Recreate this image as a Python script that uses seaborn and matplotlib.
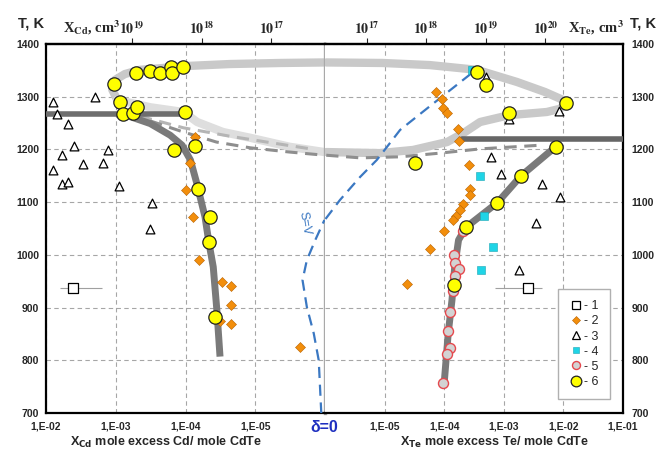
import matplotlib
matplotlib.use("Agg")
import matplotlib.pyplot as plt
import seaborn as sns
from matplotlib.lines import Line2D
from matplotlib.ticker import NullLocator

# ---------------- datos: X = exceso molar por mol CdTe, T en K ----------------
# lado Cd (mitad izquierda)
cd_ref1_x = [4.1e-3]
cd_ref1_t = [938]
cd_ref1_lo = [1.6e-3]
cd_ref1_hi = [6.3e-3]

cd_ref2_x = [7.2e-5, 8.5e-5, 1.0e-4, 7.9e-5, 6.3e-5, 2.95e-5, 2.24e-5, 2.24e-5, 3.2e-5, 2.24e-5, 2.3e-6]
cd_ref2_t = [1223, 1174, 1123, 1072, 990, 949, 940, 904, 875, 869, 826]

cd_ref3_x = [7.9e-3, 6.9e-3, 4.9e-3, 2.0e-3, 4.0e-3, 5.9e-3, 2.95e-3, 1.5e-3, 1.3e-3,
             7.9e-3, 5.9e-3, 4.9e-3, 8.9e-4, 3.0e-4, 3.2e-4]
cd_ref3_t = [1290, 1268, 1248, 1299, 1206, 1189, 1172, 1175, 1199,
             1161, 1134, 1139, 1131, 1099, 1050]

cd_ref6_x = [5.1e-4, 3.2e-4, 2.3e-4, 1.6e-4, 1.55e-4, 1.07e-4, 1.07e-3, 8.7e-4, 7.9e-4,
             5.75e-4, 5.0e-4, 1.02e-4, 1.48e-4, 7.2e-5, 6.6e-5, 4.5e-5, 4.6e-5, 3.8e-5]
cd_ref6_t = [1345, 1349, 1345, 1357, 1345, 1356, 1324, 1290, 1268,
             1270, 1280, 1271, 1198, 1206, 1124, 1072, 1024, 883]

# lado Te (mitad derecha)
te_ref1_x = [2.5e-3]
te_ref1_t = [938]
te_ref1_lo = [7.1e-4]
te_ref1_hi = [4.4e-3]

te_ref2_x = [7.2e-5, 9.1e-5, 9.5e-5, 1.1e-4, 1.7e-4, 1.74e-4, 2.6e-4, 2.75e-4, 2.7e-4,
             2.1e-4, 1.86e-4, 1.6e-4, 1.4e-4, 1.0e-4, 5.75e-5, 2.4e-5]
te_ref2_t = [1308, 1295, 1278, 1270, 1238, 1216, 1170, 1124, 1113,
             1096, 1085, 1074, 1066, 1045, 1012, 945]

te_ref3_x = [5.0e-4, 1.23e-3, 8.5e-3, 6.0e-4, 8.9e-4, 4.3e-3, 8.9e-3, 3.5e-3, 1.8e-3]
te_ref3_t = [1338, 1257, 1272, 1186, 1153, 1134, 1109, 1060, 972]

te_ref4_x = [2.9e-4, 4.0e-4, 4.7e-4, 6.5e-4, 4.2e-4]
te_ref4_t = [1351, 1150, 1074, 1015, 971]

te_ref5_x = [1.45e-4, 1.5e-4, 1.74e-4, 1.5e-4, 1.4e-4, 1.26e-4, 1.17e-4, 1.26e-4, 1.12e-4, 9.5e-5, 2.1e-4]
te_ref5_t = [1000, 984, 973, 960, 932, 892, 856, 823, 812, 756, 1046]

te_ref6_x = [3.6e-4, 5.1e-4, 1.1e-2, 1.23e-3, 7.4e-3, 3.2e-5, 1.95e-3, 7.8e-4, 2.3e-4, 1.45e-4]
te_ref6_t = [1347, 1322, 1289, 1270, 1205, 1175, 1150, 1099, 1052, 942]

# curvas de solidus (gris oscuro)
cd_sol_flat_x = [1.0e-2, 1.0e-4]
cd_sol_flat_t = [1267, 1267]
cd_sol_x = [7.9e-4, 3.2e-4, 1.66e-4, 1.12e-4, 8.5e-5, 6.9e-5, 5.25e-5, 4.6e-5, 4.0e-5, 3.55e-5, 3.2e-5]
cd_sol_t = [1267, 1249, 1227, 1208, 1180, 1136, 1072, 1022, 977, 895, 807]

te_sol_flat_x = [2.0e-4, 1.0e-1]
te_sol_flat_t = [1220, 1220]
te_sol_x = [8.1e-3, 7.4e-3, 1.95e-3, 7.8e-4, 2.3e-4, 1.74e-4, 1.5e-4, 1.35e-4, 1.17e-4, 1.0e-4]
te_sol_t = [1216, 1205, 1150, 1099, 1052, 1028, 977, 914, 852, 757]

# liquidus (gris claro)
cd_liq_up_x = [9.5e-4, 1.12e-3, 1.02e-3, 7.4e-4, 4.5e-4, 2.3e-4, 1.07e-4, 2.3e-5, 4.4e-6, 1.02e-6]
cd_liq_up_t = [1294, 1313, 1332, 1343, 1351, 1354, 1358, 1362, 1364, 1365]
te_liq_x = [1.05e-6, 9.3e-6, 5.75e-5, 3.55e-4, 1.66e-3, 4.9e-3, 9.8e-3, 1.1e-2,
            8.7e-3, 5.25e-3, 1.23e-3, 4.0e-4, 2.1e-4, 1.12e-4, 3.0e-5, 8.3e-6, 1.05e-6]
te_liq_t = [1365, 1364, 1360, 1351, 1328, 1309, 1294, 1286,
            1277, 1271, 1265, 1252, 1231, 1214, 1199, 1193, 1195]
cd_liq_low_x = [1.02e-6, 3.2e-6, 1.17e-5, 2.9e-5, 6.8e-5, 1.07e-4, 3.2e-4, 9.5e-4]
cd_liq_low_t = [1195, 1205, 1222, 1233, 1252, 1271, 1280, 1294]

# curvas discontinuas
cd_dash_x = [3.2e-4, 1.07e-4, 3.6e-5, 1.17e-5, 3.2e-6, 1.02e-6]
cd_dash_t = [1254, 1233, 1214, 1203, 1195, 1189]
cd_dash2_x = [4.5e-4, 1.07e-4, 2.3e-5, 5.5e-6, 1.6e-6]
cd_dash2_t = [1263, 1241, 1225, 1212, 1201]
te_dash_x = [1.05e-6, 3.9e-6, 1.82e-5, 8.5e-5, 4.0e-4, 4.1e-3]
te_dash_t = [1189, 1184, 1186, 1193, 1201, 1208]

# S=V
cd_sv_x = [1.13e-6, 1.23e-6, 1.45e-6, 1.82e-6, 2.1e-6, 1.82e-6, 1.38e-6, 1.02e-6]
cd_sv_t = [699, 800, 851, 901, 952, 990, 1028, 1066]
te_sv_x = [1.02e-6, 1.78e-6, 3.9e-6, 7.4e-6, 1.1e-5, 1.82e-5, 5.75e-5, 3.4e-4]
te_sv_t = [1068, 1104, 1148, 1180, 1205, 1237, 1282, 1351]

temp_ticks = [700, 800, 900, 1000, 1100, 1200, 1300, 1400]
cd_ticks = [1e-2, 1e-3, 1e-4, 1e-5]
cd_tick_labels = ["1,E-02", "1,E-03", "1,E-04", "1,E-05"]
te_ticks = [1e-5, 1e-4, 1e-3, 1e-2, 1e-1]
te_tick_labels = ["1,E-05", "1,E-04", "1,E-03", "1,E-02", "1,E-01"]
cd_cm_ticks = [1e17, 1e18, 1e19]
cd_cm_labels = [r"$\mathbf{10^{17}}$", r"$\mathbf{10^{18}}$", r"$\mathbf{10^{19}}$"]
te_cm_ticks = [1e17, 1e18, 1e19, 1e20]
te_cm_labels = [r"$\mathbf{10^{17}}$", r"$\mathbf{10^{18}}$", r"$\mathbf{10^{19}}$", r"$\mathbf{10^{20}}$"]

# ---------------- estilos ----------------
sns.set_theme(style="white")
plt.rcParams["font.family"] = ["Liberation Sans", "DejaVu Sans"]
plt.rcParams["mathtext.fontset"] = "stix"

GRID = dict(color="#a6a6a6", linestyle=(0, (4, 3)), linewidth=0.8)
LIQ = "#c9c9c9"
LIQ_LIGHT = "#dedede"
SOL = "#7a7a7a"
BLUE = "#3b78c2"

st1 = dict(marker="s", s=48, color="white", edgecolor="black", linewidth=0.9, zorder=6)
st2 = dict(marker="D", s=26, color="#f28e0c", edgecolor="#b86200", linewidth=0.4, zorder=5)
st3 = dict(marker="^", s=40, color="white", edgecolor="black", linewidth=0.9, zorder=5)
st4 = dict(marker="s", s=34, color="#1fd4e6", edgecolor="#1aa6b4", linewidth=0.4, zorder=5)
st5 = dict(marker="o", s=52, color="#d3d3d3", edgecolor="#e5484d", linewidth=1.0, zorder=5)
st6 = dict(marker="o", s=92, color="#ffff00", edgecolor="#222222", linewidth=0.9, zorder=7)

fig = plt.figure(figsize=(6.6, 4.5), dpi=100)
ax_l = fig.add_axes([46 / 660, 37 / 450, 279 / 660, 369 / 450])
ax_r = fig.add_axes([325 / 660, 37 / 450, 298 / 660, 369 / 450])

for ax in (ax_l, ax_r):
    ax.set_xscale("log")
    ax.set_ylim(700, 1400)
    ax.xaxis.set_minor_locator(NullLocator())
    ax.grid(True, which="major", **GRID)
    ax.set_axisbelow(True)
    ax.tick_params(axis="both", length=0, labelsize=7.5)
    for s in ax.spines.values():
        s.set_color("black")
        s.set_linewidth(1.6)

ax_l.set_xlim(1e-2, 1e-6)
ax_r.set_xlim(1e-6, 1e-1)
ax_l.set_xticks(cd_ticks, cd_tick_labels, fontweight="bold")
ax_r.set_xticks(te_ticks, te_tick_labels, fontweight="bold")
ax_l.set_yticks(temp_ticks, [str(t) for t in temp_ticks], fontweight="bold")
ax_r.set_yticks(temp_ticks, [str(t) for t in temp_ticks], fontweight="bold")
ax_l.tick_params(axis="x", pad=6)
ax_r.tick_params(axis="x", pad=6)
ax_l.tick_params(axis="y", pad=5)
ax_r.yaxis.tick_right()
ax_r.tick_params(axis="y", pad=6)
ax_l.spines["right"].set_color("#a9a9a9")
ax_l.spines["right"].set_linewidth(2.4)
ax_r.spines["left"].set_visible(False)

# ---------------- curvas ----------------
ax_l.plot(cd_liq_up_x, cd_liq_up_t, color=LIQ, lw=6, solid_capstyle="round", zorder=2)
ax_l.plot(cd_liq_low_x, cd_liq_low_t, color=LIQ_LIGHT, lw=6, solid_capstyle="round", zorder=2)
ax_r.plot(te_liq_x, te_liq_t, color=LIQ, lw=6, solid_capstyle="round", zorder=2)

ax_l.plot(cd_dash2_x, cd_dash2_t, color="#b5b5b5", lw=2.2, ls=(0, (4, 2.5)), zorder=2.5)
ax_l.plot(cd_dash_x, cd_dash_t, color="#8e8e8e", lw=2.2, ls=(0, (4, 2.5)), zorder=2.5)
ax_r.plot(te_dash_x, te_dash_t, color="#8e8e8e", lw=2.2, ls=(0, (4, 2.5)), zorder=2.5)

ax_l.plot(cd_sol_flat_x, cd_sol_flat_t, color="#6e6e6e", lw=4, zorder=3)
ax_l.plot(cd_sol_x, cd_sol_t, color=SOL, lw=5, solid_capstyle="butt", zorder=3)
ax_r.plot(te_sol_flat_x, te_sol_flat_t, color="#666666", lw=4, zorder=3)
ax_r.plot(te_sol_x, te_sol_t, color=SOL, lw=5, solid_capstyle="butt", zorder=3)

ax_l.plot(cd_sv_x, cd_sv_t, color=BLUE, lw=1.6, ls=(0, (5, 3)), zorder=3.5)
ax_r.plot(te_sv_x, te_sv_t, color=BLUE, lw=1.6, ls=(0, (5, 3)), zorder=3.5)
ax_l.text(2.0e-6, 1060, "S=V", color=BLUE, fontsize=9, rotation=-80,
          ha="center", va="center")

# ---------------- puntos ----------------
ax_l.hlines(cd_ref1_t, cd_ref1_lo, cd_ref1_hi, color="#a0a0a0", lw=0.8, zorder=4)
ax_r.hlines(te_ref1_t, te_ref1_lo, te_ref1_hi, color="#a0a0a0", lw=0.8, zorder=4)
sns.scatterplot(x=cd_ref1_x, y=cd_ref1_t, ax=ax_l, **st1)
sns.scatterplot(x=cd_ref2_x, y=cd_ref2_t, ax=ax_l, **st2)
sns.scatterplot(x=cd_ref3_x, y=cd_ref3_t, ax=ax_l, **st3)
sns.scatterplot(x=cd_ref6_x, y=cd_ref6_t, ax=ax_l, **st6)
sns.scatterplot(x=te_ref1_x, y=te_ref1_t, ax=ax_r, **st1)
sns.scatterplot(x=te_ref2_x, y=te_ref2_t, ax=ax_r, **st2)
sns.scatterplot(x=te_ref3_x, y=te_ref3_t, ax=ax_r, **st3)
sns.scatterplot(x=te_ref4_x, y=te_ref4_t, ax=ax_r, **st4)
sns.scatterplot(x=te_ref5_x, y=te_ref5_t, ax=ax_r, **st5)
sns.scatterplot(x=te_ref6_x, y=te_ref6_t, ax=ax_r, **st6)

ax_l.set_xlim(1e-2, 1e-6)
ax_r.set_xlim(1e-6, 1e-1)
ax_l.set_ylim(700, 1400)
ax_r.set_ylim(700, 1400)
for ax in (ax_l, ax_r):
    ax.set_xlabel("")
    ax.set_ylabel("")

# ---------------- eje superior cm^-3 ----------------
sec_l = ax_l.secondary_xaxis("top", functions=(lambda x: x * 1.7e22, lambda n: n / 1.7e22))
sec_r = ax_r.secondary_xaxis("top", functions=(lambda x: x * 2.0e22, lambda n: n / 2.0e22))
sec_l.set_xticks(cd_cm_ticks, cd_cm_labels)
sec_r.set_xticks(te_cm_ticks, te_cm_labels)
for sec in (sec_l, sec_r):
    sec.xaxis.set_minor_locator(NullLocator())
    sec.tick_params(axis="x", length=4, width=0.8, pad=1, labelsize=10)
    sec.spines["top"].set_linewidth(1.6)

# ---------------- textos ----------------
fig.text(31 / 660, 1 - 23 / 450, "T, K", fontsize=10.5, fontweight="bold", ha="center", va="center")
fig.text(643 / 660, 1 - 24 / 450, "T, K", fontsize=10.5, fontweight="bold", ha="center", va="center")
fig.text(121 / 660, 1 - 28 / 450, r"X$_{\mathbf{Cd}}$, cm$^{\mathbf{3}}$", fontsize=10.5,
         fontweight="bold", family="Liberation Serif", ha="right", va="center")
fig.text(596 / 660, 1 - 28 / 450, r"X$_{\mathbf{Te}}$, cm$^{\mathbf{3}}$", fontsize=10.5,
         fontweight="bold", family="Liberation Serif", ha="center", va="center")
fig.text(166 / 660, 1 - 442 / 450, r"X$_{\mathbf{Cd}}$ mole excess Cd/ mole CdTe",
         fontsize=9, fontweight="bold", ha="center", va="center", math_fontfamily="dejavusans")
fig.text(494 / 660, 1 - 442 / 450, r"X$_{\mathbf{Te}}$ mole excess Te/ mole CdTe",
         fontsize=9, fontweight="bold", ha="center", va="center", math_fontfamily="dejavusans")
fig.text(324 / 660, 1 - 427 / 450, "δ=0", color="#1f30c0", fontsize=11.5,
         fontweight="bold", ha="center", va="center")

# ---------------- leyenda ----------------
def handle(st):
    return Line2D([], [], ls="none", marker=st["marker"], markersize=st["s"] ** 0.5 * 0.8,
                  markerfacecolor=st["color"], markeredgecolor=st["edgecolor"],
                  markeredgewidth=st["linewidth"])

handles = [handle(s) for s in (st1, st2, st3, st4, st5, st6)]
labels = ["- 1", "- 2", "- 3", "- 4", "- 5", "- 6"]
fig.legend(handles, labels, loc="upper left", bbox_to_anchor=(558 / 660, 1 - 289 / 450),
           frameon=True, fancybox=False, edgecolor="#b0b0b0", framealpha=1,
           fontsize=9, borderpad=0.9, labelspacing=0.25, handlelength=1.0,
           handletextpad=0.2, borderaxespad=0)

fig.savefig("out.png", dpi=100)
